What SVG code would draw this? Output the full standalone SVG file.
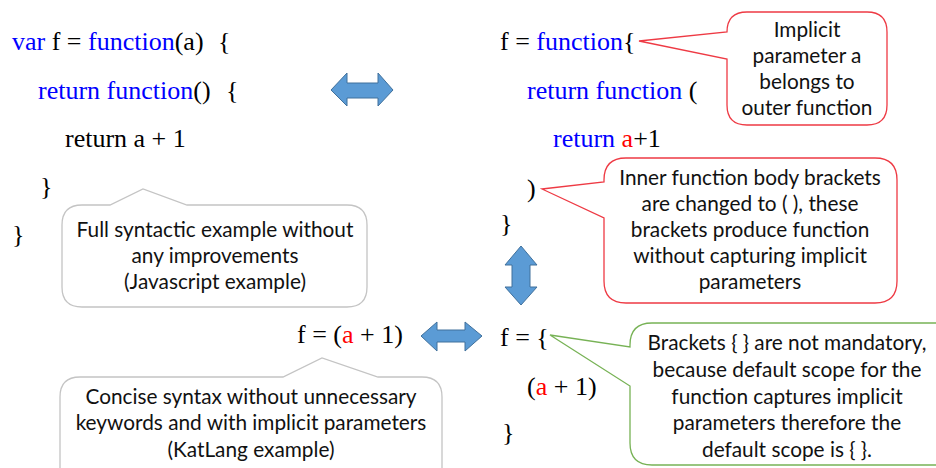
<svg xmlns="http://www.w3.org/2000/svg" width="936" height="468" viewBox="0 0 936 468">
<style>
.code{font-family:"Liberation Serif","Times New Roman",serif;font-size:26px;fill:#000}
.kw{fill:#0000ff}
.red{fill:#ff0000}
.note{font-family:Lato,"Liberation Sans",sans-serif;font-size:20.8px;fill:#111;text-anchor:middle}
.cr{fill:#fff;stroke:#ee3a44;stroke-width:1.3}
.cg{fill:#fff;stroke:#77b255;stroke-width:1.3}
.cy{fill:#fff;stroke:#c4c4c4;stroke-width:1.3}
.arr{fill:#5b9bd5;stroke:#41719c;stroke-width:1}
</style>
<rect width="936" height="468" fill="#fff"/>

<g id="code-js">
<text class="code" x="12" y="50"><tspan class="kw">var</tspan> f = <tspan class="kw">function</tspan>(a)<tspan x="218">{</tspan></text>
<text class="code" x="38" y="99"><tspan class="kw">return function</tspan>()<tspan x="226">{</tspan></text>
<text class="code" x="65" y="147">return a + 1</text>
<text class="code" x="40" y="195">}</text>
<text class="code" x="12" y="243">}</text>
</g>

<g id="code-mid">
<text class="code" x="500" y="50">f = <tspan class="kw">function</tspan>{</text>
<text class="code" x="527" y="99"><tspan class="kw">return function</tspan> (</text>
<text class="code" x="553" y="147"><tspan class="kw">return</tspan> <tspan class="red">a</tspan>+1</text>
<text class="code" x="527" y="197">)</text>
<text class="code" x="500" y="232">}</text>
</g>

<g id="code-katlang">
<text class="code" x="297" y="343">f = (<tspan class="red">a</tspan> + 1)</text>
</g>

<g id="code-katlang2">
<text class="code" x="500" y="346">f = {</text>
<text class="code" x="527" y="395">(<tspan class="red">a</tspan> + 1)</text>
<text class="code" x="502" y="441">}</text>
</g>

<g id="connectors">
<polygon class="arr" points="331,90 347,73 347,83 378,83 378,73 393,90 378,106 378,98 347,98 347,106"/>
<polygon class="arr" points="421,336 437,322 437,330 465,330 465,322 482,336 465,351 465,342 437,342 437,351"/>
<polygon class="arr" points="521,246 537,265 530,265 530,287 537,287 521,305 505,287 512,287 512,265 505,265"/>
</g>

<g id="note-implicit">
<path class="cr" d="M747,12 H867 Q887,12 887,32 V105 Q887,125 867,125 H747 Q727,125 727,105 V59 L639,41 L727,32 Q727,12 747,12 Z"/>
<text class="note" x="807" y="37">Implicit</text>
<text class="note" x="807" y="63">parameter a</text>
<text class="note" x="807" y="89">belongs to</text>
<text class="note" x="807" y="115">outer function</text>
</g>

<g id="note-inner">
<path class="cr" d="M626,158 H875 Q897,158 897,180 V281 Q897,303 875,303 H626 Q604,303 604,281 V218 L542,189 L604,182 V180 Q604,158 626,158 Z"/>
<text class="note" x="750" y="185">Inner function body brackets</text>
<text class="note" x="750" y="211">are changed to ( ), these</text>
<text class="note" x="750" y="237">brackets produce function</text>
<text class="note" x="750" y="263">without capturing implicit</text>
<text class="note" x="750" y="289">parameters</text>
</g>

<g id="note-default">
<path class="cg" d="M652,323 H950 Q972,323 972,345 V443 Q972,465 950,465 H652 Q630,465 630,443 V386 L550,335 L630,347 V345 Q630,323 652,323 Z"/>
<text class="note" x="787" y="350">Brackets { } are not mandatory,</text>
<text class="note" x="787" y="377">because default scope for the</text>
<text class="note" x="787" y="404">function captures implicit</text>
<text class="note" x="787" y="430">parameters therefore the</text>
<text class="note" x="787" y="457">default scope is { }.</text>
</g>

<g id="note-full">
<path class="cy" d="M82,205 H110 L143,189 L187,205 H347 Q367,205 367,225 V287 Q367,307 347,307 H82 Q62,307 62,287 V225 Q62,205 82,205 Z"/>
<text class="note" x="215" y="237">Full syntactic example without</text>
<text class="note" x="215" y="263">any improvements</text>
<text class="note" x="215" y="289">(Javascript example)</text>
</g>

<g id="note-concise">
<path class="cy" d="M80,377 H283 L322,358 L378,377 H422 Q442,377 442,397 V480 Q442,500 422,500 H80 Q60,500 60,480 V397 Q60,377 80,377 Z"/>
<text class="note" x="251" y="404">Concise syntax without unnecessary</text>
<text class="note" x="251" y="430">keywords and with implicit parameters</text>
<text class="note" x="251" y="457">(KatLang example)</text>
</g>
</svg>
